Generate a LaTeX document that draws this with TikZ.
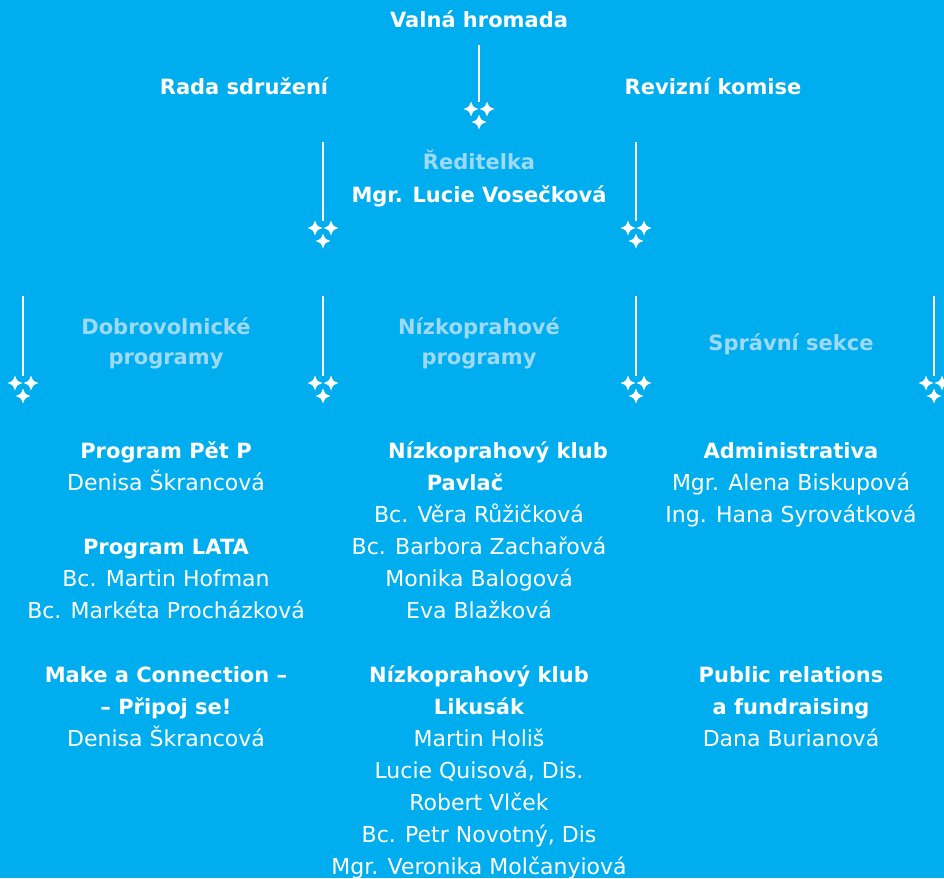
\documentclass[tikz,border=0pt]{standalone}
\usepackage{fontspec}
\setmainfont{DejaVu Sans}
\usetikzlibrary{positioning}

\definecolor{skyback}{RGB}{0,174,239}
\definecolor{paleblue}{RGB}{158,218,245}

\begin{document}
\begin{tikzpicture}[x=1pt,y=-1pt]
		\tikzset{
			every node/.style={text=white,align=center,inner sep=0pt,text height=18pt,text depth=3pt,font=\fontsize{22}{32}\selectfont},
			boss/.style={font=\fontsize{21}{32}\selectfont\bfseries},
			unit/.style={text=paleblue,font=\fontsize{21}{30}\selectfont\bfseries},
			wire/.style={draw=white,line width=2.6pt},
			spark/.pic={\fill[white] (0,-7.5) .. controls (2,-2) .. (7.5,0) .. controls (2,2) .. (0,7.5) .. controls (-2,2) .. (-7.5,0) .. controls (-2,-2) .. cycle;},
			sparkles/.pic={
				\pic at (-8,7) {spark};
				\pic at (8,7) {spark};
				\pic at (0,20) {spark};
			}
		}
		\fill[skyback] (0,0) rectangle (944,878);
		\useasboundingbox (0,0) rectangle (944,878);
		
		% top levels
		\node[boss] (valna) at (479,20) {Valná hromada};
		\node[boss] (rada) at (244,87) {Rada sdružení};
		\node[boss] (revize) at (713,87) {Revizní komise};
		\node[unit] (reditelka) at (479,162) {Ředitelka};
		\node[boss] (lucie) at (479,195) {Mgr. Lucie Vosečková};
		
		% sections
		\node[unit] (dobro) at (166,327) {Dobrovolnické};
		\node[unit] (dobro0) at (166,357) {programy};
		\node[unit] (nizko) at (479,327) {Nízkoprahové};
		\node[unit] (nizko0) at (479,357) {programy};
		\node[unit] (spravni) at (791,343) {Správní sekce};
		
		% hanging lines
		\coordinate (h1a) at (479,45);  \coordinate (h1b) at (479,102);
		\coordinate (h2a) at (323,142); \coordinate (h2b) at (323,221);
		\coordinate (h3a) at (636,142); \coordinate (h3b) at (636,221);
		\coordinate (h4a) at (23,296);  \coordinate (h4b) at (23,376);
		\coordinate (h5a) at (323,296); \coordinate (h5b) at (323,376);
		\coordinate (h6a) at (636,296); \coordinate (h6b) at (636,376);
		\coordinate (h7a) at (934,296); \coordinate (h7b) at (934,376);
		\foreach \h in {h1,h2,h3,h4,h5,h6,h7}
			\draw[wire] (\h a) -- (\h b) pic {sparkles};
		
		% volunteer programmes
		\node[boss] (petp) at (166,451) {Program Pět P};
		\node (petp1) at (166,483) {Denisa Škrancová};
		\node[boss] (lata) at (166,547) {Program LATA};
		\node (lata1) at (166,579) {Bc. Martin Hofman};
		\node (lata2) at (166,611) {Bc. Markéta Procházková};
		\node[boss] (make) at (166,675) {Make a Connection –};
		\node[boss] (pripoj) at (166,707) {– Připoj se!};
		\node (make1) at (166,739) {Denisa Škrancová};
		
		% low-threshold clubs
		\node[boss] (pavlac) at (498,451) {Nízkoprahový klub};
		\node[boss] (pavlac0) at (465,483) {Pavlač};
		\node (pavlac1) at (479,515) {Bc. Věra Růžičková};
		\node (pavlac2) at (479,547) {Bc. Barbora Zachařová};
		\node (pavlac3) at (479,579) {Monika Balogová};
		\node (pavlac4) at (479,611) {Eva Blažková};
		\node[boss] (likus) at (479,675) {Nízkoprahový klub};
		\node[boss] (likus0) at (479,707) {Likusák};
		\node (likus1) at (479,739) {Martin Holiš};
		\node (likus2) at (479,771) {Lucie Quisová, Dis.};
		\node (likus3) at (479,803) {Robert Vlček};
		\node (likus4) at (479,835) {Bc. Petr Novotný, Dis};
		\node (likus5) at (479,867) {Mgr. Veronika Molčanyiová};
		
		% administration
		\node[boss] (admin) at (791,451) {Administrativa};
		\node (admin1) at (791,483) {Mgr. Alena Biskupová};
		\node (admin2) at (791,515) {Ing. Hana Syrovátková};
		\node[boss] (pr) at (791,675) {Public relations};
		\node[boss] (pr0) at (791,707) {a fundraising};
		\node (pr1) at (791,739) {Dana Burianová};
	\end{tikzpicture}
\end{document}
